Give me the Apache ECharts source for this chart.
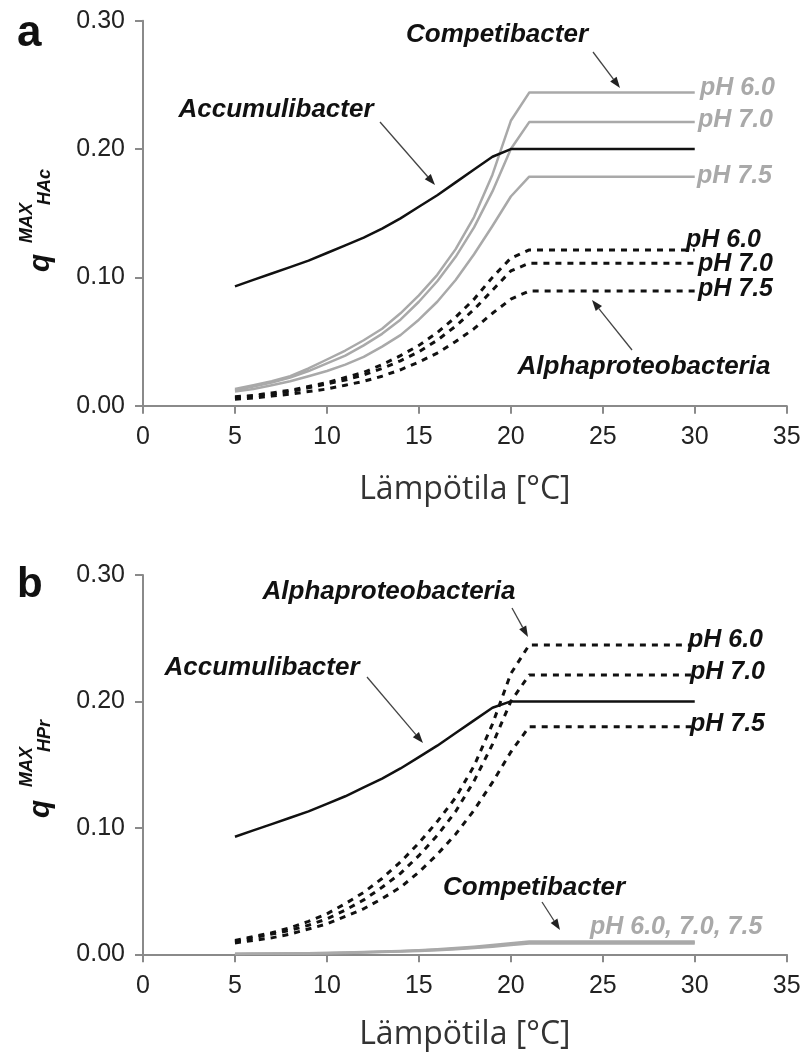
<!DOCTYPE html>
<html>
<head>
<meta charset="utf-8">
<script src="https://cdn.jsdelivr.net/npm/echarts@6/dist/echarts.min.js"></script>
<style>
html,body{margin:0;padding:0;background:#fff;}
#chart{width:805px;height:1054px;}
</style>
</head>
<body>
<div id="chart"></div>
<script>
// ---------- data ----------
const temps = [5,6,7,8,9,10,11,12,13,14,15,16,17,18,19,20,21,30];
const xTickValues = [0,5,10,15,20,25,30,35];
const yTickValues = [0.00,0.10,0.20,0.30];

// panel a (HAc)
const accA     = [0.093,0.098,0.103,0.108,0.113,0.119,0.125,0.131,0.138,0.146,0.155,0.164,0.174,0.184,0.194,0.200,0.200,0.200];
const compA60  = [0.013,0.016,0.019,0.023,0.029,0.036,0.043,0.051,0.060,0.072,0.086,0.102,0.122,0.147,0.180,0.222,0.244,0.244];
const compA70  = [0.012,0.015,0.018,0.022,0.027,0.033,0.039,0.047,0.056,0.067,0.081,0.097,0.116,0.139,0.167,0.200,0.221,0.221];
const compA75  = [0.011,0.013,0.016,0.019,0.023,0.027,0.032,0.038,0.046,0.055,0.067,0.081,0.098,0.118,0.140,0.163,0.1785,0.1785];
const alphaA60 = [0.007,0.008,0.010,0.012,0.015,0.018,0.022,0.026,0.032,0.039,0.047,0.057,0.069,0.083,0.100,0.115,0.1214,0.1214];
const alphaA70 = [0.006,0.0075,0.009,0.011,0.014,0.017,0.020,0.024,0.029,0.035,0.042,0.051,0.062,0.075,0.090,0.105,0.111,0.111];
const alphaA75 = [0.005,0.006,0.0075,0.009,0.011,0.013,0.016,0.019,0.023,0.028,0.034,0.041,0.050,0.060,0.072,0.083,0.0894,0.0894];

// panel b (HPr)
const accB     = [0.093,0.098,0.103,0.108,0.113,0.119,0.125,0.132,0.139,0.147,0.156,0.165,0.175,0.185,0.195,0.200,0.200,0.200];
const alphaB60 = [0.011,0.014,0.017,0.021,0.026,0.032,0.040,0.049,0.060,0.073,0.088,0.105,0.124,0.149,0.182,0.222,0.2447,0.2447];
const alphaB70 = [0.010,0.013,0.016,0.019,0.023,0.028,0.035,0.043,0.053,0.064,0.078,0.094,0.113,0.137,0.166,0.200,0.221,0.221];
const alphaB75 = [0.009,0.011,0.013,0.016,0.020,0.024,0.030,0.036,0.044,0.053,0.065,0.079,0.095,0.114,0.136,0.160,0.180,0.180];
const compB60  = [0.0004,0.0005,0.0006,0.0007,0.0009,0.0011,0.0014,0.0018,0.0022,0.0027,0.0033,0.0040,0.0049,0.0060,0.0073,0.0088,0.0102,0.0102];
const compB70  = [0.0003,0.0004,0.0005,0.0006,0.0008,0.0010,0.0013,0.0016,0.0020,0.0025,0.0030,0.0036,0.0044,0.0054,0.0066,0.0080,0.0093,0.0093];
const compB75  = [0.0003,0.0004,0.0005,0.0006,0.0007,0.0009,0.0011,0.0014,0.0018,0.0022,0.0027,0.0033,0.0040,0.0049,0.0060,0.0073,0.0085,0.0085];

const xTitle = 'Lämpötila [°C]';

// ---------- helpers ----------
const pair = vals => temps.map((t,i)=>[t, vals[i]]);
const GRAY = '#a9a9a9';
const DARK = '#111';
function line(name, vals, gi, color, width, dashed, z){
  return {
    name, type:'line', xAxisIndex:gi, yAxisIndex:gi, data:pair(vals),
    symbol:'none', smooth:false, z: z||2, silent:true,
    lineStyle:{color, width, type: dashed ? [6,6] : 'solid', cap:'butt', join:'round'}
  };
}
const fontLbl = 'italic bold 26px "Liberation Sans", Arial, sans-serif';
const fontPh = 'italic bold 25px "Liberation Sans", Arial, sans-serif';
function txt(text, x, y, font, fill, align){
  return {type:'text', z:50, style:{text, x, y, font, fill, textAlign: align||'left', textVerticalAlign:'middle'}};
}
function arrow(x1,y1,x2,y2){
  const ang = Math.atan2(y2-y1, x2-x1);
  const L = 11, W = 4;
  const bx = x2 - L*Math.cos(ang), by = y2 - L*Math.sin(ang);
  const px = -Math.sin(ang)*W, py = Math.cos(ang)*W;
  return [
    {type:'line', z:50, shape:{x1,y1,x2:bx,y2:by}, style:{stroke:'#444', lineWidth:1.3}},
    {type:'polygon', z:50, shape:{points:[[x2,y2],[bx+px,by+py],[bx-px,by-py]]}, style:{fill:'#222'}}
  ];
}
function yTitle(Yq, Ysup, Ysub, sub){
  return {
    type:'group', x:0, y:0, rotation:Math.PI/2, z:50,
    children:[
      {type:'text', style:{text:'q', x:-Yq, y:41, font:'italic bold 30px "Liberation Sans", Arial, sans-serif', fill:'#111', textAlign:'left', textVerticalAlign:'middle'}},
      {type:'text', style:{text:'MAX', x:-Ysup, y:27, font:'italic bold 18px "Liberation Sans", Arial, sans-serif', fill:'#111', textAlign:'left', textVerticalAlign:'middle'}},
      {type:'text', style:{text:sub, x:-Ysub, y:45.5, font:'italic bold 18px "Liberation Sans", Arial, sans-serif', fill:'#111', textAlign:'left', textVerticalAlign:'middle'}}
    ]
  };
}

const axisCommon = {
  axisLine:{show:true, onZero:false, lineStyle:{color:'#8a8a8a', width:2}},
  axisTick:{show:true, inside:false, length:8, lineStyle:{color:'#8a8a8a', width:2}},
  splitLine:{show:false}
};
function xAx(gi, gap){
  return Object.assign({}, axisCommon, {
    type:'value', gridIndex:gi, min:0, max:35, interval:5,
    axisLabel:{fontSize:25, fontFamily:'"Liberation Sans", Arial, sans-serif', color:'#222', margin:19,
      formatter: v => xTickValues.includes(v) ? String(v) : ''},
    name:xTitle, nameLocation:'middle', nameGap:gap,
    nameTextStyle:{fontSize:32, fontFamily:'"Open Sans", sans-serif', color:'#333'}
  });
}
function yAx(gi){
  return Object.assign({}, axisCommon, {
    type:'value', gridIndex:gi, min:0, max:0.3, interval:0.1,
    axisLabel:{fontSize:25, fontFamily:'"Liberation Sans", Arial, sans-serif', color:'#222', margin:18,
      formatter: v => yTickValues.some(t=>Math.abs(t-v)<1e-9) ? v.toFixed(2) : ''}
  });
}

const graphics = [
  {type:'text', z:50, style:{text:'a', x:17, y:56, font:'bold 44px "Liberation Sans", Arial, sans-serif', fill:'#111', textAlign:'left', textVerticalAlign:'bottom'}},
  {type:'text', z:50, style:{text:'b', x:17, y:606, font:'bold 42px "Liberation Sans", Arial, sans-serif', fill:'#111', textAlign:'left', textVerticalAlign:'bottom'}},
  yTitle(272, 243, 205, 'HAc'),
  yTitle(818, 787, 752, 'HPr'),
  // panel a annotations
  txt('Competibacter', 497, 35, fontLbl, DARK, 'center'),
  txt('Accumulibacter', 276, 110, fontLbl, DARK, 'center'),
  txt('Alphaproteobacteria', 644, 367, fontLbl, DARK, 'center'),
  txt('pH 6.0', 700, 88, fontPh, GRAY),
  txt('pH 7.0', 698, 120, fontPh, GRAY),
  txt('pH 7.5', 697, 176, fontPh, GRAY),
  txt('pH 6.0', 686, 240, fontPh, DARK),
  txt('pH 7.0', 698, 264, fontPh, DARK),
  txt('pH 7.5', 698, 289, fontPh, DARK),
  ...arrow(593,52,620,88),
  ...arrow(380,122,435,185),
  ...arrow(632,350,592,300),
  // panel b annotations
  txt('Alphaproteobacteria', 389, 592, fontLbl, DARK, 'center'),
  txt('Accumulibacter', 262, 668, fontLbl, DARK, 'center'),
  txt('Competibacter', 534, 888, fontLbl, DARK, 'center'),
  txt('pH 6.0', 688, 640, fontPh, DARK),
  txt('pH 7.0', 690, 672, fontPh, DARK),
  txt('pH 7.5', 690, 724, fontPh, DARK),
  txt('pH 6.0, 7.0, 7.5', 590, 927, fontPh, GRAY),
  ...arrow(512,608,528,637),
  ...arrow(367,677,423,743),
  ...arrow(542,902,560,930)
];

const option = {
  animation:false,
  backgroundColor:'#fff',
  grid:[
    {left:143, right:18.3, top:20.7, height:385},
    {left:143, right:18.3, top:575, height:379.3}
  ],
  xAxis:[xAx(0, 68), xAx(1, 65)],
  yAxis:[yAx(0), yAx(1)],
  series:[
    line('Competibacter pH 6.0', compA60, 0, GRAY, 2.5, false, 2),
    line('Competibacter pH 7.0', compA70, 0, GRAY, 2.5, false, 2),
    line('Competibacter pH 7.5', compA75, 0, GRAY, 2.5, false, 2),
    line('Alphaproteobacteria pH 6.0', alphaA60, 0, DARK, 3, true, 3),
    line('Alphaproteobacteria pH 7.0', alphaA70, 0, DARK, 3, true, 3),
    line('Alphaproteobacteria pH 7.5', alphaA75, 0, DARK, 3, true, 3),
    line('Accumulibacter', accA, 0, DARK, 2.5, false, 4),
    line('Competibacter pH 6.0 (b)', compB60, 1, GRAY, 2.5, false, 2),
    line('Competibacter pH 7.0 (b)', compB70, 1, GRAY, 2.5, false, 2),
    line('Competibacter pH 7.5 (b)', compB75, 1, GRAY, 2.5, false, 2),
    line('Alphaproteobacteria pH 6.0 (b)', alphaB60, 1, DARK, 3, true, 3),
    line('Alphaproteobacteria pH 7.0 (b)', alphaB70, 1, DARK, 3, true, 3),
    line('Alphaproteobacteria pH 7.5 (b)', alphaB75, 1, DARK, 3, true, 3),
    line('Accumulibacter (b)', accB, 1, DARK, 2.5, false, 4)
  ],
  graphic: graphics
};

const chart = echarts.init(document.getElementById('chart'), null, {renderer:'canvas'});
chart.setOption(option);
</script>
</body>
</html>
